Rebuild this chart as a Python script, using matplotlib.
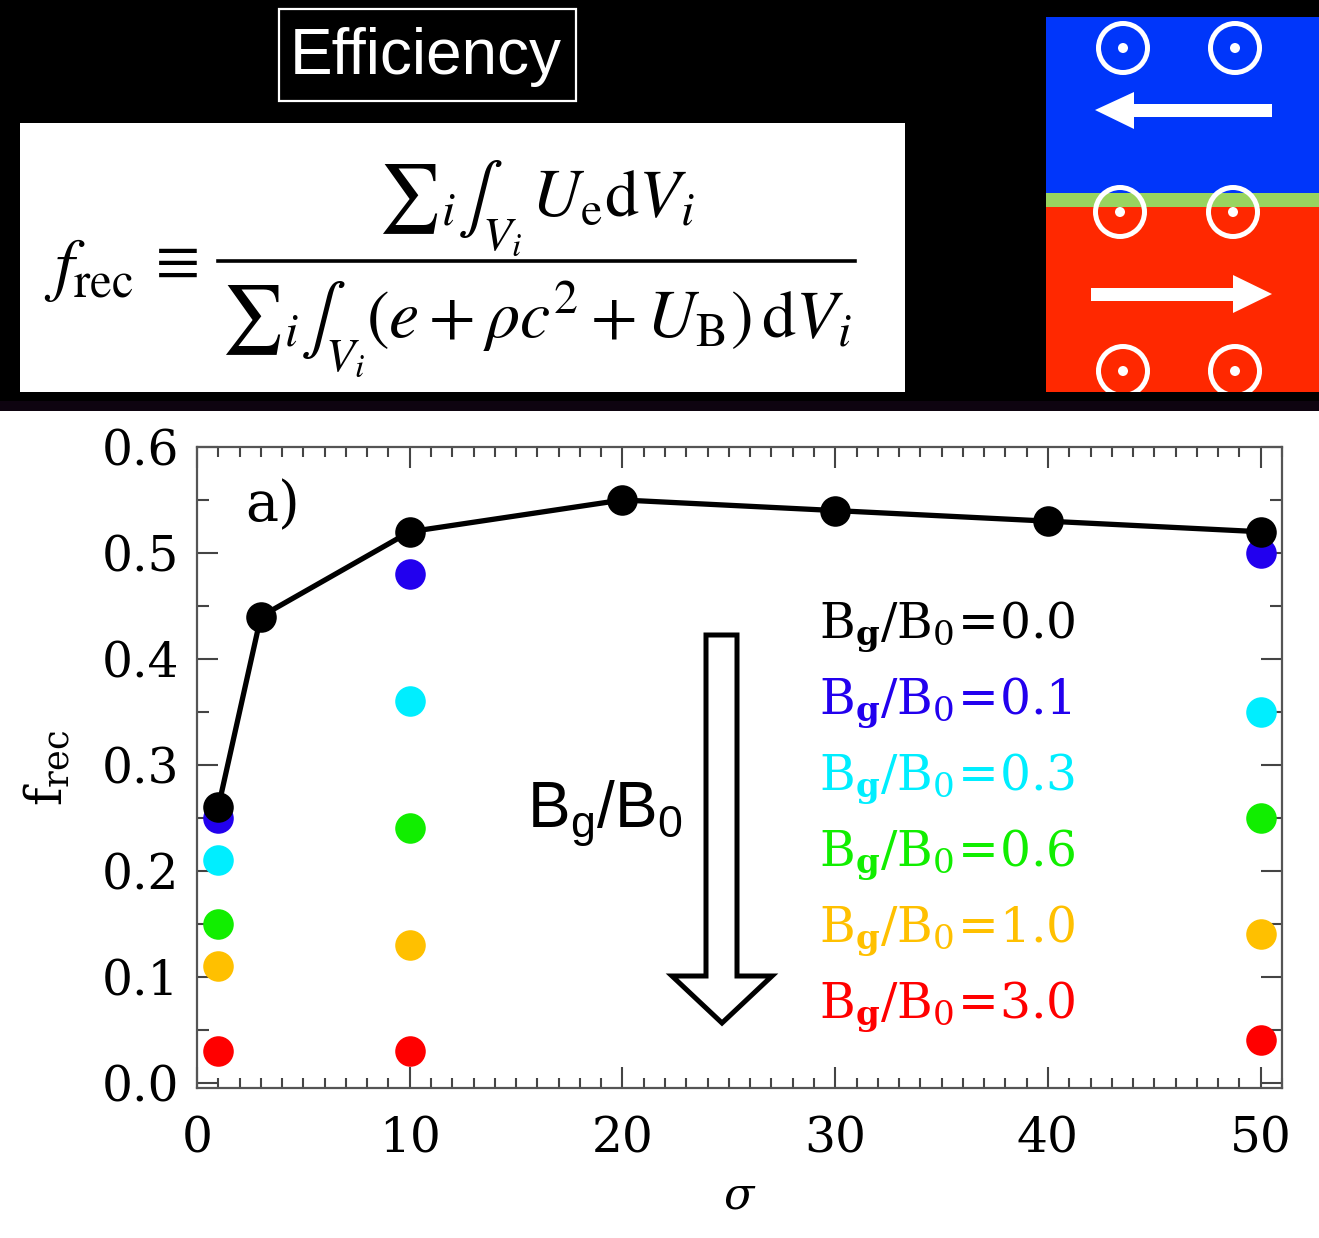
import matplotlib
matplotlib.use("Agg")
import matplotlib.pyplot as plt
from matplotlib.patches import Rectangle, Polygon, Circle
from matplotlib.ticker import MultipleLocator

plt.rcParams['font.family'] = ['DejaVu Serif']
plt.rcParams['mathtext.fontset'] = 'dejavuserif'
plt.rcParams['mathtext.rm'] = 'Liberation Sans'
plt.rcParams['mathtext.it'] = 'Liberation Sans:italic'
plt.rcParams['mathtext.bf'] = 'Liberation Sans:bold'

# ---- data -------------------------------------------------------------
sigma_all = [1, 3, 10, 20, 30, 40, 50]
frec_bg00 = [0.26, 0.44, 0.52, 0.55, 0.54, 0.53, 0.52]

sigma_sub = [1, 10, 50]
frec_bg01 = [0.25, 0.48, 0.50]
frec_bg03 = [0.21, 0.36, 0.35]
frec_bg06 = [0.15, 0.24, 0.25]
frec_bg10 = [0.11, 0.13, 0.14]
frec_bg30 = [0.03, 0.03, 0.04]

guide_labels = ['0.0', '0.1', '0.3', '0.6', '1.0', '3.0']
guide_colors = ['black', '#2200EE', '#00EEFF', '#11EE00', '#FFC000', '#FF0000']

x_ticks = [0, 10, 20, 30, 40, 50]
y_ticks = [0.0, 0.1, 0.2, 0.3, 0.4, 0.5, 0.6]

W, H = 1319, 1238
fig = plt.figure(figsize=(W / 100, H / 100), dpi=100)
fig.patch.set_facecolor('white')


def fx(px):
    return px / W


def fy(py):
    return 1 - py / H


def add_rect(x0, y0, x1, y1, **kw):
    fig.patches.append(Rectangle((fx(x0), fy(y1)), (x1 - x0) / W, (y1 - y0) / H,
                                 transform=fig.transFigure, **kw))


def add_poly(pts, **kw):
    fig.patches.append(Polygon([(fx(a), fy(b)) for a, b in pts],
                               transform=fig.transFigure, **kw))


# ---- dark header band --------------------------------------------------
add_rect(0, 0, W, 401, facecolor='black', edgecolor='none', zorder=0)
add_rect(0, 401, W, 411, facecolor='#0e0410', edgecolor='none', zorder=0)

# title box
add_rect(279, 9, 576, 101, facecolor='none', edgecolor='white', linewidth=1.6, zorder=1)
fig.text(fx(426), fy(57), 'Efficiency', color='white', fontsize=46,
         family='Liberation Sans', ha='center', va='center', zorder=2)

# formula panel
add_rect(20, 123, 905, 392, facecolor='white', edgecolor='none', zorder=1)
fig.text(fx(44), fy(288), r'$f_\mathrm{rec}$', fontsize=50, math_fontfamily='stix',
         ha='left', va='baseline', zorder=2)
fig.text(fx(146), fy(278), r'$\equiv$', fontsize=46, math_fontfamily='stix',
         ha='left', va='baseline', zorder=2)
fig.text(fx(536), fy(216), r'${\sum}_i \int_{V_i}\, U_\mathrm{e}\mathrm{d}V_i$',
         fontsize=49, math_fontfamily='stix', ha='center', va='baseline', zorder=2)
fig.text(fx(536), fy(337),
         r'${\sum}_i \int_{V_i}(e + \rho c^2 + U_\mathrm{B})\,\mathrm{d}V_i$',
         fontsize=49, math_fontfamily='stix', ha='center', va='baseline', zorder=2)
fig.lines.append(plt.Line2D([fx(218), fx(855)], [fy(261), fy(261)], color='black',
                            linewidth=2.6, transform=fig.transFigure, zorder=2))

# ---- current-sheet sketch ---------------------------------------------
sk = fig.add_axes([fx(1046), fy(392), (W - 1046) / W, (392 - 17) / H], zorder=3)
sk.set_xlim(1046, W)
sk.set_ylim(392, 17)
sk.axis('off')
sk.add_patch(Rectangle((1046, 17), W - 1046, 176, facecolor='#0036FA', edgecolor='none'))
sk.add_patch(Rectangle((1046, 193), W - 1046, 14, facecolor='#98D45F', edgecolor='none'))
sk.add_patch(Rectangle((1046, 207), W - 1046, 185, facecolor='#FF2800', edgecolor='none'))
for cx, cy in [(1123, 48), (1235, 48), (1120, 212), (1233, 212), (1123, 371), (1235, 371)]:
    sk.add_patch(Circle((cx, cy), 24.5, facecolor='none', edgecolor='white', linewidth=3.6))
    sk.add_patch(Circle((cx, cy), 5, facecolor='white', edgecolor='none'))
sk.add_patch(Polygon([(1272, 104), (1134, 104), (1134, 92), (1095, 110), (1134, 129),
                      (1134, 117), (1272, 117)], facecolor='white', edgecolor='none'))
sk.add_patch(Polygon([(1091, 288), (1233, 288), (1233, 275), (1272, 294), (1233, 313),
                      (1233, 301), (1091, 301)], facecolor='white', edgecolor='none'))

# ---- main plot --------------------------------------------------------
ax = fig.add_axes([fx(197), fy(1088), (1282 - 197) / W, (1088 - 447) / H], zorder=3)
ax.set_xlim(0, 51)
ax.set_ylim(-0.005, 0.6)

ms = 22
series = [frec_bg01, frec_bg03, frec_bg06, frec_bg10, frec_bg30]
for vals, col in zip(series, guide_colors[1:]):
    ax.plot(sigma_sub, vals, linestyle='none', marker='o', markersize=ms,
            markerfacecolor=col, markeredgecolor='none', clip_on=False, zorder=3)
ax.plot(sigma_all, frec_bg00, color='black', linewidth=3.8, marker='o',
        markersize=ms, markerfacecolor='black', markeredgecolor='none',
        clip_on=False, zorder=4)

ax.set_xticks(x_ticks)
ax.set_xticklabels([str(v) for v in x_ticks])
ax.set_yticks(y_ticks)
ax.set_yticklabels([f'{v:.1f}' for v in y_ticks])
ax.xaxis.set_minor_locator(MultipleLocator(1))
ax.yaxis.set_minor_locator(MultipleLocator(0.05))
ax.tick_params(which='both', direction='in', top=True, right=True, color='#444444',
               width=1.5, labelsize=35)
ax.tick_params(which='major', length=15)
ax.tick_params(which='minor', length=7)
ax.tick_params(axis='x', which='major', pad=20)
ax.tick_params(axis='y', which='major', pad=13)
ax.tick_params(axis='y', which='minor', length=8.5)
for sp in ax.spines.values():
    sp.set_color('#555555')
    sp.set_linewidth(1.6)

ax.set_xlabel(r'$\sigma$', fontsize=32, labelpad=8, math_fontfamily='dejavuserif')
ax.set_ylabel(r'$\mathrm{f_{rec}}$', fontsize=36, labelpad=20, math_fontfamily='dejavuserif')

fig.text(fx(245), fy(521), 'a)', fontsize=40, ha='left', va='baseline')

# legend text in colour
base_y = [637, 713, 790, 866, 942, 1018]
for lab, col, yb in zip(guide_labels, guide_colors, base_y):
    fig.text(fx(819), fy(yb), r'$\mathrm{B_{\mathbf{g}}/B_0\!=\!' + lab + '}$',
             color=col, fontsize=35, ha='left', va='baseline',
             math_fontfamily='dejavuserif')

# hollow arrow indicating increasing guide field
add_poly([(706, 635), (737, 635), (737, 976), (772, 976), (722, 1023), (672, 976),
          (706, 976)], facecolor='white', edgecolor='black', linewidth=3.6,
         joinstyle='miter', zorder=5)
fig.text(fx(527), fy(828), r'$\mathrm{B_g/B_0}$', fontsize=46, ha='left',
         va='baseline', math_fontfamily='custom', zorder=6)

fig.savefig('out.png', dpi=100)
